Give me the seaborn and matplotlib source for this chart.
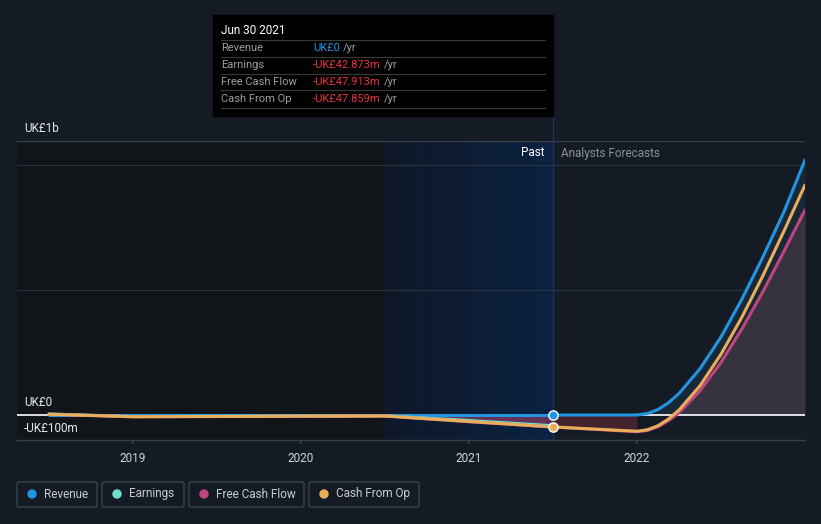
import numpy as np
import pandas as pd
import matplotlib
matplotlib.use("Agg")
import matplotlib.pyplot as plt
from matplotlib.patches import FancyBboxPatch, Rectangle
import seaborn as sns

# values in UK£ billions
past_years = [2018.5, 2019.0, 2019.5, 2020.0, 2020.5, 2021.0, 2021.5]
revenue_past = [0.0, 0.0, 0.0, 0.0, 0.0, 0.0, 0.0]
earnings_past = [0.004, -0.006, -0.005, -0.004, -0.003, -0.022, -0.0429]
fcf_past = [0.003, -0.007, -0.006, -0.005, -0.004, -0.027, -0.0479]
cfo_past = [0.003, -0.007, -0.006, -0.005, -0.004, -0.026, -0.0479]

fc_years = [2021.5, 2022.0, 2022.0625, 2022.125, 2022.1875, 2022.25, 2022.375,
            2022.5, 2022.625, 2022.75, 2022.875, 2023.0]
revenue_fc = [0.0, 0.0, 0.006, 0.022, 0.049, 0.086, 0.185, 0.312, 0.464, 0.633, 0.813, 1.02]
fcf_fc = [-0.0479, -0.067, -0.062, -0.047, -0.023, 0.009, 0.097, 0.210, 0.345, 0.494, 0.655, 0.82]
cfo_fc = [-0.0479, -0.065, -0.059, -0.043, -0.016, 0.020, 0.117, 0.243, 0.392, 0.558, 0.736, 0.92]

x_ticks = [2019, 2020, 2021, 2022]
series_names = ["Revenue", "Earnings", "Free Cash Flow", "Cash From Op"]
colors = {"Revenue": "#2394df", "Earnings": "#6ee0d0",
          "Free Cash Flow": "#c0457f", "Cash From Op": "#e8ae5a"}

tooltip_rows = [("Revenue", "UK£0", "#2394df"),
                ("Earnings", "-UK£42.873m", "#e8323c"),
                ("Free Cash Flow", "-UK£47.913m", "#e8323c"),
                ("Cash From Op", "-UK£47.859m", "#e8323c")]

bg = "#151b24"
sns.set_theme(style="dark")
plt.rcParams["font.family"] = ["Roboto", "DejaVu Sans"]

fig = plt.figure(figsize=(8.21, 5.24), dpi=100, facecolor=bg)
ax = fig.add_axes([17 / 821, 84 / 524, 788 / 821, 299 / 524])
ax.set_facecolor(bg)
x0, x1 = 2018.31, 2023.0
y0, y1 = -0.1, 1.096

# region shading
ax.axvspan(x0, 2020.5, color="#111419", zorder=0, lw=0)
grad = np.linspace(0, 1, 256).reshape(1, -1)
cmap = matplotlib.colors.LinearSegmentedColormap.from_list("pb", ["#0f1828", "#0b2242"])
ax.imshow(grad, extent=[2020.5, 2021.5, y0, y1], aspect="auto", cmap=cmap, zorder=0.5)
ax.set_xlim(x0, x1)
ax.set_ylim(y0, y1)
ax.axvline(2021.5, color="#1e3556", lw=1, zorder=1)

# grid
for g in [0.5, 1.0]:
    ax.axhline(g, color="#2c323b", lw=0.8, zorder=1)
ax.axhline(y1 - 0.0005, color="#3a404a", lw=1, zorder=1)

# fills
past = pd.DataFrame({"year": past_years, "Revenue": revenue_past, "Earnings": earnings_past,
                     "Free Cash Flow": fcf_past, "Cash From Op": cfo_past})
fc = pd.DataFrame({"year": fc_years, "Revenue": revenue_fc,
                   "Free Cash Flow": fcf_fc, "Cash From Op": cfo_fc})
m = past["year"] >= 2020.5
ax.fill_between(past["year"][m], 0, past["Free Cash Flow"][m], color="#8a3a64", alpha=0.7, lw=0, zorder=2)
m2 = fc["year"] <= 2022.0
ax.fill_between(fc["year"][m2], 0, fc["Free Cash Flow"][m2], color="#4a2530", alpha=0.9, lw=0, zorder=2)
m3 = fc["year"] >= 2022.0
ax.fill_between(fc["year"][m3], 0, fc["Revenue"][m3], color="#1a2a3c", alpha=0.9, lw=0, zorder=2)
ax.fill_between(fc["year"][m3], 0, fc["Free Cash Flow"][m3].clip(lower=0), color="#3a3440", alpha=0.9, lw=0, zorder=2.1)

ax.axhline(0, color="white", lw=1.2, zorder=2.5)

# lines
long_past = past.melt(id_vars="year", var_name="series", value_name="value")
long_fc = fc.melt(id_vars="year", var_name="series", value_name="value")
for name in ["Revenue", "Earnings", "Free Cash Flow", "Cash From Op"]:
    d = long_past[long_past["series"] == name]
    sns.lineplot(data=d, x="year", y="value", color=colors[name], lw=2.2, ax=ax, zorder=3)
for name in ["Free Cash Flow", "Cash From Op", "Revenue"]:
    d = long_fc[long_fc["series"] == name]
    sns.lineplot(data=d, x="year", y="value", color=colors[name], lw=2.2, ax=ax, zorder=3)
for ln in ax.lines:
    ln.set_solid_joinstyle("round")
    ln.set_solid_capstyle("round")

ax.scatter([2021.5], [revenue_past[-1]], s=45, color=colors["Revenue"], edgecolor="white", lw=1, zorder=5)
ax.scatter([2021.5], [cfo_past[-1]], s=45, color=colors["Cash From Op"], edgecolor="white", lw=1, zorder=5)

# axes
ax.set_xlabel("")
ax.set_ylabel("")
ax.set_yticks([])
ax.set_xticks(x_ticks)
ax.set_xticklabels([str(t) for t in x_ticks], color="#cfd3d9", fontsize=8.5)
ax.tick_params(axis="x", length=3, color="#3a404a", pad=6, bottom=True)
for s in ["top", "right", "left"]:
    ax.spines[s].set_visible(False)
ax.spines["bottom"].set_color("#3a404a")
ax.spines["bottom"].set_linewidth(1)
ax.grid(False)

# y labels
fig.text(24 / 821, 1 - 128 / 524, "UK£1b", color="#e6e8eb", fontsize=8.5, va="center")
fig.text(24 / 821, 1 - 403 / 524, "UK£0", color="#e6e8eb", fontsize=8.5, va="center")
fig.text(24 / 821, 1 - 428 / 524, "-UK£100m", color="#e6e8eb", fontsize=8.5, va="center")
fig.text(544 / 821, 1 - 153 / 524, "Past", color="#ffffff", fontsize=8.5, ha="right", va="center")
fig.text(561 / 821, 1 - 153 / 524, "Analysts Forecasts", color="#8a8f97", fontsize=8.5, va="center")

# tooltip
fig.patches.append(Rectangle((213 / 821, 1 - 116 / 524), 340 / 821, 101 / 524,
                             transform=fig.transFigure, color="#000000", zorder=10))
fig.lines.append(plt.Line2D([553 / 821, 553 / 821], [1 - 141 / 524, 1 - 116 / 524],
                            transform=fig.transFigure, color="#1e3556", lw=1))
fig.text(221 / 821, 1 - 31 / 524, "Jun 30 2021", color="white", fontsize=8.5, va="center", zorder=11)
for i, (lab, val, col) in enumerate(tooltip_rows):
    yy = 48 + 17 * i
    fig.lines.append(plt.Line2D([221 / 821, 545 / 821], [1 - (yy - 8.5) / 524] * 2,
                                transform=fig.transFigure, color="#3a3a3a", lw=0.8, zorder=11))
    fig.text(221 / 821, 1 - yy / 524, lab, color="#9a9ea5", fontsize=8, va="center", zorder=11)
    t = fig.text(313 / 821, 1 - yy / 524, val, color=col, fontsize=8, va="center", zorder=11)
    fig.canvas.draw()
    bb = t.get_window_extent()
    fig.text(bb.x1 / 821 + 3 / 821, 1 - yy / 524, "/yr", color="#9a9ea5", fontsize=8, va="center", zorder=11)
fig.lines.append(plt.Line2D([221 / 821, 545 / 821], [1 - (48 + 17 * 3 + 8.5) / 524] * 2,
                            transform=fig.transFigure, color="#3a3a3a", lw=0.8, zorder=11))

# legend buttons
boxes = [(17, 80), (102, 82), (189, 115), (309, 110)]
for (bx, bw), name in zip(boxes, series_names):
    fig.patches.append(FancyBboxPatch((bx / 821, 1 - 507 / 524), bw / 821, 25 / 524,
                                      boxstyle="round,pad=0,rounding_size=0.003",
                                      transform=fig.transFigure, facecolor=bg,
                                      edgecolor="#3c424b", lw=1))
    fig.patches.append(matplotlib.patches.Ellipse(((bx + 15) / 821, 1 - 494 / 524), 8 / 821, 8 / 524,
                                                  transform=fig.transFigure, color=colors[name]))
    fig.text((bx + 27) / 821, 1 - 494 / 524, name, color="#c8ccd2", fontsize=8.5, va="center")

fig.savefig("out.png", dpi=100, facecolor=bg)
